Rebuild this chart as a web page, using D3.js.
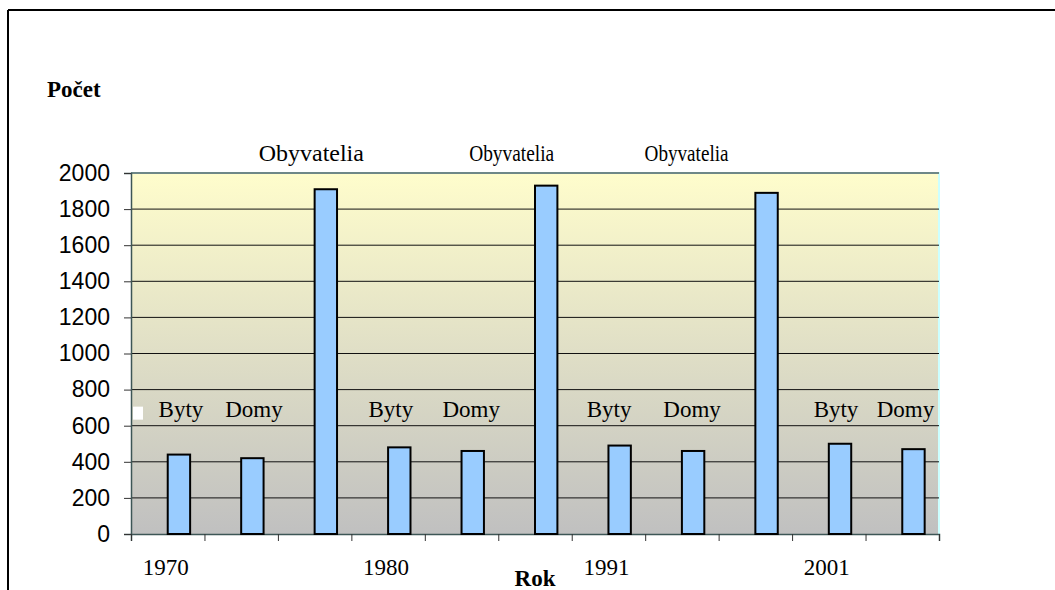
<!DOCTYPE html>
<html>
<head>
<meta charset="utf-8">
<script src="https://cdn.jsdelivr.net/npm/d3@7"></script>
<style>
  body { margin: 0; background: #fff; }
  svg { display: block; }
</style>
</head>
<body>
<div id="chart"></div>
<script>
// chart data
var groups = ["1970", "", "", "1980", "", "", "1991", "", "", "2001", ""];
var barLabels = ["Byty", "Domy", "Obyvatelia", "Byty", "Domy", "Obyvatelia",
                 "Byty", "Domy", "Obyvatelia", "Byty", "Domy"];
var counts = [440, 420, 1910, 480, 460, 1930, 490, 460, 1890, 500, 470];
var yTicks = [0, 200, 400, 600, 800, 1000, 1200, 1400, 1600, 1800, 2000];

// label nudges (the labels were dragged by hand in the original)
var labelDx = [2, 1.5, -14.5, -8.5, -1.5, -34.5, -10.5, -1, -80, -4, -8];
var labelLen = [null, null, 105, null, null, 85, null, null, 84, null, null];

var W = 1055, H = 590;
var margin = {top: 173, right: 116, bottom: 56, left: 131};

var svg = d3.select("#chart").append("svg")
    .attr("width", W)
    .attr("height", H);

// outer frame (only left and top visible)
svg.append("line").attr("x1", 8).attr("x2", 8).attr("y1", 10).attr("y2", H)
    .attr("stroke", "#000").attr("stroke-width", 2);
svg.append("line").attr("x1", 8).attr("x2", W).attr("y1", 10).attr("y2", 10)
    .attr("stroke", "#000").attr("stroke-width", 2);

var x = d3.scaleBand()
    .domain(d3.range(groups.length))
    .range([margin.left, W - margin.right]);
// two series per category, the first one is empty
var inner = d3.scaleBand()
    .domain(["blank", "value"])
    .range([0, x.bandwidth()])
    .paddingOuter(0.64);
var y = d3.scaleLinear()
    .domain([0, 2000])
    .range([H - margin.bottom, margin.top]);

// plot background gradient
var grad = svg.append("defs").append("linearGradient")
    .attr("id", "bg").attr("x1", 0).attr("x2", 0).attr("y1", 0).attr("y2", 1);
grad.append("stop").attr("offset", "0%").attr("stop-color", "#FFFDCC");
grad.append("stop").attr("offset", "100%").attr("stop-color", "#C0C0C0");

var x0 = margin.left, x1 = W - margin.right;
svg.append("rect")
    .attr("x", x0).attr("y", y(2000))
    .attr("width", x1 - x0).attr("height", y(0) - y(2000))
    .attr("fill", "url(#bg)");
// light border top / right
svg.append("path")
    .attr("d", "M" + x0 + "," + y(2000) + "H" + x1 + "V" + y(0))
    .attr("fill", "none").attr("stroke", "#CCFFFF").attr("stroke-width", 2);

// gridlines
svg.append("g").selectAll("line").data(yTicks.slice(1)).enter().append("line")
    .attr("x1", x0).attr("x2", x1)
    .attr("y1", function(d) { return y(d); })
    .attr("y2", function(d) { return y(d); })
    .attr("stroke", "#111").attr("stroke-width", 1);

// y axis
var yAxis = svg.append("g")
    .attr("transform", "translate(" + x0 + ",0)")
    .call(d3.axisLeft(y).tickValues(yTicks).tickSize(7).tickPadding(14).tickFormat(d3.format("d")));
yAxis.select(".domain").attr("stroke", "#3d5656").attr("stroke-width", 1.5);
yAxis.selectAll(".tick line").attr("stroke", "#333");
yAxis.selectAll("text")
    .attr("font-family", "Liberation Sans, Arial, sans-serif")
    .attr("font-size", 23).attr("fill", "#000");

// x axis: ticks at category boundaries
var bounds = d3.range(groups.length + 1);
var xb = d3.scaleLinear().domain([0, groups.length]).range([x0, x1]);
var xAxis = svg.append("g")
    .attr("transform", "translate(0," + y(0) + ")")
    .call(d3.axisBottom(xb).tickValues(bounds).tickSize(7).tickFormat(""));
xAxis.select(".domain").attr("stroke", "#3d5656").attr("stroke-width", 1.5);
xAxis.selectAll(".tick line").attr("stroke", "#333");

// category labels
svg.append("g").selectAll("text").data(groups).enter().append("text")
    .attr("x", function(d, i) { return x(i) + x.bandwidth() / 2 - 2; })
    .attr("y", y(0) + 41)
    .attr("text-anchor", "middle")
    .attr("font-family", "Liberation Serif, Times New Roman, serif")
    .attr("font-size", 23)
    .text(function(d) { return d; });

// bars
svg.append("g").selectAll("rect").data(counts).enter().append("rect")
    .attr("x", function(d, i) { return x(i) + inner("value"); })
    .attr("y", function(d) { return y(d); })
    .attr("width", inner.bandwidth())
    .attr("height", function(d) { return y(0) - y(d); })
    .attr("fill", "#99CCFF")
    .attr("stroke", "#000")
    .attr("stroke-width", 2);

// data labels (category names)
svg.append("g").selectAll("text").data(barLabels).enter().append("text")
    .attr("x", function(d, i) {
        return x(i) + inner("value") + inner.bandwidth() / 2 + labelDx[i];
    })
    .attr("y", function(d) { return d === "Obyvatelia" ? y(2000) - 12 : y(650); })
    .attr("text-anchor", "middle")
    .attr("font-family", "Liberation Serif, Times New Roman, serif")
    .attr("font-size", 23)
    .each(function(d, i) {
        if (labelLen[i]) {
            d3.select(this).attr("textLength", labelLen[i]).attr("lengthAdjust", "spacingAndGlyphs");
        }
    })
    .text(function(d) { return d; });

// legend marker of the empty series
svg.append("rect")
    .attr("x", x0 + 2).attr("y", y(700) - 1)
    .attr("width", 10).attr("height", 13)
    .attr("fill", "#fff");

// axis titles
svg.append("text")
    .attr("x", 47).attr("y", 97)
    .attr("font-family", "Liberation Serif, Times New Roman, serif")
    .attr("font-weight", "bold").attr("font-size", 23)
    .text("Počet");
svg.append("text")
    .attr("x", 535).attr("y", 586)
    .attr("text-anchor", "middle")
    .attr("font-family", "Liberation Serif, Times New Roman, serif")
    .attr("font-weight", "bold").attr("font-size", 23)
    .text("Rok");
</script>
</body>
</html>
